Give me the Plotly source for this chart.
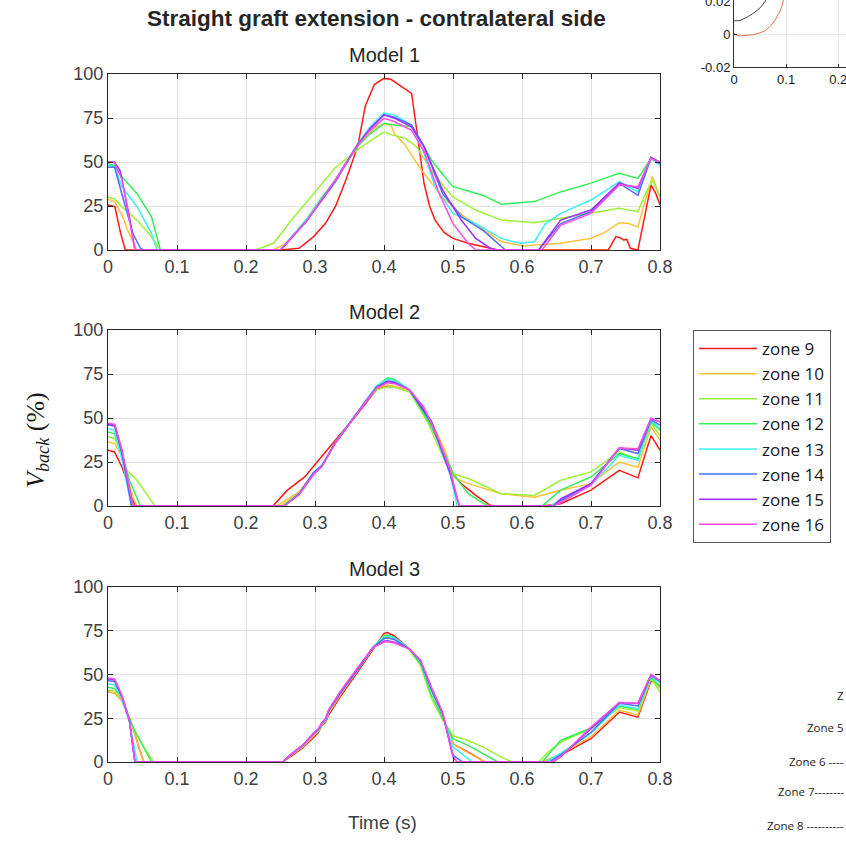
import plotly.graph_objects as go

# ---------------------------------------------------------------- data
ZONES = ["zone 9", "zone 10", "zone 11", "zone 12",
         "zone 13", "zone 14", "zone 15", "zone 16"]
ZONE_COLORS = ["#ff1a1a", "#ffc13b", "#9cf23a", "#36ef5a",
               "#3ff2f2", "#4d6fff", "#9b30ff", "#ff4de6"]

TIME_TICKS = [0, 0.1, 0.2, 0.3, 0.4, 0.5, 0.6, 0.7, 0.8]
TIME_LABELS = ["0", "0.1", "0.2", "0.3", "0.4", "0.5", "0.6", "0.7", "0.8"]
VBACK_TICKS = [0, 25, 50, 75, 100]
VBACK_LABELS = ["0", "25", "50", "75", "100"]

MODEL_TITLES = ["Model 1", "Model 2", "Model 3"]

# backflow (%) per zone: (time [s], value [%])
MODEL1 = {
    "zone 9": ([0, 0.01, 0.018, 0.025, 0.1, 0.2, 0.25, 0.277, 0.298, 0.315, 0.33, 0.345, 0.362, 0.373, 0.386, 0.4, 0.41, 0.425, 0.44, 0.445, 0.452, 0.458, 0.466, 0.474, 0.487, 0.5, 0.522, 0.54, 0.554, 0.565, 0.65, 0.725, 0.731, 0.736, 0.742, 0.747, 0.752, 0.757, 0.768, 0.778, 0.787, 0.794, 0.8],
               [25.6, 24.6, 10, 0, 0, 0, 0, 1, 7.6, 15, 25, 40, 59, 82, 94, 97.5, 97, 93, 89, 75, 55, 38, 25, 17, 10, 6.6, 3.8, 2, 1, 0, 0, 0, 4, 7.6, 7, 5.7, 6, 1, 0, 20, 37, 32, 25.6]),
    "zone 10": ([0, 0.0096, 0.02, 0.03, 0.042, 0.1, 0.2, 0.239, 0.255, 0.27, 0.287, 0.31, 0.33, 0.345, 0.362, 0.375, 0.389, 0.4, 0.41, 0.415, 0.43, 0.442, 0.455, 0.469, 0.485, 0.5, 0.516, 0.533, 0.55, 0.57, 0.602, 0.656, 0.7, 0.72, 0.741, 0.755, 0.768, 0.78, 0.789, 0.8],
                [28.8, 27.5, 20, 10, 0, 0, 0, 0, 3, 9, 17, 28, 40, 50, 59, 65, 70, 71.5, 71, 66, 60, 53, 45, 38, 30, 24.6, 19, 15, 10, 4.7, 2.3, 3.8, 6.6, 10, 15.5, 15, 13, 30, 41.7, 30]),
    "zone 11": ([0, 0.0096, 0.02, 0.042, 0.06, 0.076, 0.1, 0.2, 0.213, 0.24, 0.266, 0.298, 0.33, 0.362, 0.38, 0.4, 0.415, 0.431, 0.447, 0.458, 0.469, 0.485, 0.5, 0.533, 0.57, 0.618, 0.656, 0.7, 0.741, 0.768, 0.779, 0.789, 0.8],
                [30, 29, 24.6, 17, 9, 0, 0, 0, 0, 3.8, 17, 32, 47, 57, 62, 67, 65, 63.4, 58.7, 52, 45, 37, 30, 22.7, 17, 15.5, 18, 20.8, 23.7, 21.8, 32, 39.8, 30]),
    "zone 12": ([0, 0.0096, 0.02, 0.042, 0.063, 0.076, 0.1, 0.2, 0.25, 0.287, 0.31, 0.33, 0.362, 0.38, 0.4, 0.415, 0.44, 0.455, 0.469, 0.485, 0.5, 0.522, 0.544, 0.57, 0.618, 0.656, 0.7, 0.741, 0.768, 0.787, 0.8],
                [49, 48, 41.7, 32, 19, 0, 0, 0, 0, 17, 30, 40, 59, 66, 72, 71, 70, 61, 51, 43, 36, 33.5, 31, 26, 27.5, 33, 38, 43.6, 40.7, 52, 49]),
    "zone 13": ([0, 0.0096, 0.02, 0.042, 0.063, 0.071, 0.1, 0.2, 0.25, 0.287, 0.33, 0.362, 0.38, 0.4, 0.415, 0.44, 0.458, 0.474, 0.5, 0.533, 0.57, 0.597, 0.618, 0.634, 0.656, 0.7, 0.741, 0.768, 0.787, 0.8],
                [48, 47.5, 36, 24.6, 9.5, 0, 0, 0, 0, 17, 40, 60.6, 70, 78, 76.7, 71, 55, 36, 20.8, 15, 6.6, 3.8, 4.7, 15, 20.8, 28.4, 38.8, 33, 52, 48]),
    "zone 14": ([0, 0.0096, 0.02, 0.036, 0.047, 0.052, 0.1, 0.2, 0.25, 0.287, 0.33, 0.362, 0.38, 0.4, 0.415, 0.44, 0.458, 0.485, 0.512, 0.544, 0.565, 0.576, 0.624, 0.656, 0.7, 0.741, 0.768, 0.787, 0.8],
                [47, 47, 32, 9.5, 1, 0, 0, 0, 0, 16, 39, 60, 69, 77, 75.5, 71, 58.7, 32, 19, 11, 3.8, 0, 0, 15, 21.8, 38, 31, 52.6, 49]),
    "zone 15": ([0, 0.0096, 0.0176, 0.031, 0.039, 0.1, 0.2, 0.25, 0.287, 0.33, 0.362, 0.38, 0.4, 0.415, 0.44, 0.458, 0.485, 0.512, 0.533, 0.554, 0.565, 0.624, 0.656, 0.7, 0.741, 0.768, 0.787, 0.8],
                [50, 50, 45, 19, 0, 0, 0, 0, 16, 40, 60, 69, 76.7, 75, 70, 58.7, 34, 17, 6.6, 1, 0, 0, 17, 22.7, 38, 35, 52.6, 50]),
    "zone 16": ([0, 0.0096, 0.0203, 0.0336, 0.039, 0.1, 0.2, 0.25, 0.287, 0.33, 0.362, 0.38, 0.4, 0.415, 0.44, 0.458, 0.48, 0.5, 0.522, 0.533, 0.629, 0.656, 0.7, 0.741, 0.768, 0.787, 0.8],
                [50, 49.6, 40, 13, 0, 0, 0, 0, 16, 40, 59.5, 68, 74.8, 73, 68, 56, 32, 15, 3.8, 0, 0, 14, 20.8, 37, 36, 52, 50]),
}

MODEL2 = {
    "zone 9": ([0, 0.0096, 0.0203, 0.031, 0.039, 0.1, 0.2, 0.239, 0.26, 0.285, 0.303, 0.33, 0.362, 0.389, 0.402, 0.415, 0.437, 0.453, 0.469, 0.485, 0.5, 0.512, 0.533, 0.554, 0.565, 0.629, 0.656, 0.7, 0.741, 0.768, 0.787, 0.8],
               [31.7, 30.7, 22, 10.8, 0, 0, 0, 0, 9, 16.5, 25, 37.4, 52.6, 66, 68, 67.7, 65, 58, 45, 31.7, 18.4, 12.7, 6, 0.4, 0, 0, 1.3, 9, 20.3, 16, 40, 31.7]),
    "zone 10": ([0, 0.0096, 0.0203, 0.036, 0.042, 0.1, 0.2, 0.244, 0.277, 0.298, 0.31, 0.33, 0.362, 0.389, 0.405, 0.415, 0.437, 0.469, 0.49, 0.5, 0.522, 0.57, 0.618, 0.656, 0.7, 0.741, 0.768, 0.787, 0.8],
                [36.4, 35.5, 28, 5, 0, 0, 0, 0, 8, 19, 23, 36.4, 53.5, 67, 68.7, 68, 65.5, 48, 30, 16.5, 12.7, 7, 5, 9, 12.7, 25, 22, 45, 37.4]),
    "zone 11": ([0, 0.0096, 0.0203, 0.0256, 0.042, 0.068, 0.1, 0.2, 0.25, 0.277, 0.298, 0.31, 0.33, 0.362, 0.389, 0.405, 0.415, 0.437, 0.464, 0.49, 0.5, 0.522, 0.57, 0.618, 0.656, 0.7, 0.741, 0.768, 0.787, 0.8],
                [39.3, 38.5, 29.8, 21, 14.6, 0, 0, 0, 0, 7, 19, 23, 36.4, 53.5, 66, 67.7, 67.5, 65, 47, 24, 18.4, 15.6, 7, 6, 14.6, 19.4, 30.7, 26, 47, 40]),
    "zone 12": ([0, 0.0096, 0.0203, 0.031, 0.047, 0.1, 0.2, 0.255, 0.277, 0.298, 0.31, 0.33, 0.362, 0.389, 0.405, 0.415, 0.437, 0.469, 0.49, 0.5, 0.522, 0.544, 0.554, 0.629, 0.656, 0.7, 0.741, 0.768, 0.787, 0.8],
                [42, 41, 29.8, 14.6, 0, 0, 0, 0, 7, 19, 23, 36.4, 53.5, 68, 72.9, 72, 66, 45, 28, 18.4, 7, 1.5, 0, 0, 9, 16.5, 29.8, 27, 47.8, 43]),
    "zone 13": ([0, 0.0096, 0.0203, 0.034, 0.1, 0.2, 0.255, 0.277, 0.298, 0.31, 0.33, 0.362, 0.389, 0.405, 0.415, 0.437, 0.469, 0.496, 0.506, 0.64, 0.656, 0.7, 0.741, 0.768, 0.787, 0.8],
                [44, 43, 26, 0, 0, 0, 0, 7, 19, 23, 36.4, 53.5, 68, 72, 71.5, 66, 47, 18, 0, 0, 3, 11.8, 28.8, 26, 48.8, 44]),
    "zone 14": ([0, 0.0096, 0.0203, 0.034, 0.1, 0.2, 0.255, 0.277, 0.298, 0.31, 0.33, 0.362, 0.389, 0.405, 0.415, 0.437, 0.469, 0.496, 0.509, 0.645, 0.656, 0.7, 0.741, 0.768, 0.787, 0.8],
                [46, 45.5, 29.8, 0, 0, 0, 0, 7, 19, 23, 36.4, 53.5, 67.5, 71, 70.5, 66, 47, 18, 0, 0, 3, 12.7, 32.6, 29.8, 49, 46]),
    "zone 15": ([0, 0.0096, 0.0203, 0.036, 0.1, 0.2, 0.255, 0.277, 0.298, 0.31, 0.33, 0.362, 0.389, 0.405, 0.415, 0.437, 0.469, 0.496, 0.509, 0.645, 0.656, 0.7, 0.741, 0.768, 0.787, 0.8],
                [46.5, 46, 31, 0, 0, 0, 0, 6.5, 18, 22.5, 36, 53, 67, 70.6, 70, 66, 48, 19, 0, 0, 4, 12.7, 33, 31.7, 49.7, 47.8]),
    "zone 16": ([0, 0.0096, 0.0203, 0.036, 0.1, 0.2, 0.255, 0.277, 0.298, 0.31, 0.33, 0.362, 0.389, 0.405, 0.415, 0.437, 0.458, 0.48, 0.496, 0.509, 0.645, 0.656, 0.7, 0.741, 0.768, 0.787, 0.8],
                [47, 46.5, 32, 0, 0, 0, 0, 6.5, 18, 22.5, 36, 53, 67, 70, 69.5, 66, 56, 37.4, 20.3, 0, 0, 2, 11.8, 33, 32.5, 49.7, 47.8]),
}

MODEL3 = {
    "zone 9": ([0, 0.0096, 0.0203, 0.031, 0.036, 0.045, 0.052, 0.1, 0.2, 0.253, 0.266, 0.282, 0.298, 0.305, 0.31, 0.315, 0.32, 0.336, 0.362, 0.384, 0.4, 0.405, 0.415, 0.437, 0.453, 0.469, 0.485, 0.5, 0.522, 0.544, 0.55, 0.63, 0.656, 0.7, 0.741, 0.768, 0.787, 0.8],
               [40, 39.5, 35, 24, 20, 8, 0, 0, 0, 0, 3.5, 8, 14, 17, 21, 22.5, 27, 37, 51.5, 64.5, 73.5, 74, 72, 64.5, 57, 41, 26, 10.4, 5.7, 0.5, 0, 0, 4, 13.3, 28.5, 25.6, 46.5, 43.6]),
    "zone 10": ([0, 0.0096, 0.0203, 0.031, 0.036, 0.045, 0.052, 0.1, 0.2, 0.253, 0.266, 0.282, 0.298, 0.305, 0.31, 0.315, 0.32, 0.336, 0.362, 0.384, 0.4, 0.405, 0.415, 0.437, 0.453, 0.469, 0.485, 0.5, 0.522, 0.544, 0.55, 0.63, 0.656, 0.7, 0.741, 0.768, 0.787, 0.8],
                [40, 39.5, 35, 24, 20, 8, 0, 0, 0, 0, 4, 8.5, 15, 17.5, 21.5, 23, 28, 38, 52.5, 65, 72.5, 72.5, 71, 64.5, 57, 41, 26.5, 10.4, 5.2, 0.5, 0, 0, 4.5, 14.5, 29.5, 27, 47.5, 42]),
    "zone 11": ([0, 0.0096, 0.0203, 0.031, 0.036, 0.052, 0.066, 0.1, 0.2, 0.253, 0.266, 0.282, 0.298, 0.305, 0.31, 0.315, 0.32, 0.336, 0.362, 0.384, 0.4, 0.405, 0.415, 0.437, 0.453, 0.469, 0.485, 0.5, 0.522, 0.544, 0.57, 0.586, 0.624, 0.64, 0.661, 0.7, 0.741, 0.768, 0.787, 0.8],
                [41, 40.5, 36, 25, 20, 8.5, 0, 0, 0, 0, 4.5, 9, 16, 18, 22, 23.5, 29, 39, 53, 65.5, 71, 71.5, 70, 64, 55, 36, 24, 15, 12.3, 8.5, 2.8, 0, 0, 6.6, 12.3, 19, 31, 29, 48, 40]),
    "zone 12": ([0, 0.0096, 0.0203, 0.031, 0.036, 0.052, 0.063, 0.1, 0.2, 0.253, 0.266, 0.282, 0.298, 0.305, 0.31, 0.315, 0.32, 0.336, 0.362, 0.384, 0.4, 0.405, 0.415, 0.437, 0.453, 0.469, 0.485, 0.5, 0.522, 0.544, 0.565, 0.629, 0.656, 0.7, 0.741, 0.768, 0.787, 0.8],
                [42.7, 42, 37, 25, 20, 8, 0, 0, 0, 0, 4.5, 9, 16, 18, 22, 23.5, 29, 39, 53, 65.5, 72, 72.5, 71, 64.5, 56, 38, 25, 13.3, 9.5, 4.7, 0, 0, 12.3, 19.5, 32, 30, 48.5, 43]),
    "zone 13": ([0, 0.0096, 0.0203, 0.031, 0.042, 0.1, 0.2, 0.253, 0.266, 0.282, 0.298, 0.305, 0.31, 0.315, 0.32, 0.336, 0.362, 0.384, 0.4, 0.405, 0.415, 0.437, 0.453, 0.469, 0.485, 0.5, 0.522, 0.528, 0.634, 0.656, 0.7, 0.741, 0.768, 0.787, 0.8],
                [44.6, 44, 36, 23, 0, 0, 0, 0, 4.5, 9, 16, 18, 22, 23.5, 29, 39, 53, 65.5, 71.5, 72, 71, 64.5, 57, 40.5, 27, 8.5, 1.9, 0, 0, 5, 16.5, 32.5, 30.5, 49, 45]),
    "zone 14": ([0, 0.0096, 0.0203, 0.031, 0.039, 0.1, 0.2, 0.253, 0.266, 0.282, 0.298, 0.305, 0.31, 0.315, 0.32, 0.336, 0.362, 0.384, 0.4, 0.405, 0.415, 0.437, 0.453, 0.469, 0.485, 0.5, 0.512, 0.517, 0.64, 0.656, 0.7, 0.741, 0.768, 0.787, 0.8],
                [46.5, 46, 37, 23.7, 0, 0, 0, 0, 4.5, 9.5, 16, 18.5, 22, 24, 29.4, 39, 53, 65.5, 70.5, 70.8, 70, 64.5, 57.5, 41, 27.5, 4, 0.5, 0, 0, 4, 17, 33.5, 32, 49.5, 46]),
    "zone 15": ([0, 0.0096, 0.0203, 0.031, 0.039, 0.1, 0.2, 0.253, 0.266, 0.282, 0.298, 0.305, 0.31, 0.315, 0.32, 0.336, 0.362, 0.384, 0.4, 0.405, 0.415, 0.437, 0.453, 0.469, 0.485, 0.5, 0.506, 0.645, 0.656, 0.7, 0.741, 0.768, 0.787, 0.8],
                [47.4, 47, 37.5, 23.7, 0, 0, 0, 0, 4.7, 9.5, 16.5, 19, 22.5, 24.5, 29.8, 39.5, 53.5, 65.5, 69, 69.3, 68.5, 64.5, 58, 42, 28, 3, 0, 0, 3, 19, 34, 33.5, 50, 46.5]),
    "zone 16": ([0, 0.0096, 0.0203, 0.031, 0.039, 0.1, 0.2, 0.253, 0.266, 0.282, 0.298, 0.305, 0.31, 0.315, 0.32, 0.336, 0.362, 0.384, 0.4, 0.405, 0.415, 0.437, 0.453, 0.469, 0.485, 0.5, 0.506, 0.645, 0.656, 0.7, 0.741, 0.768, 0.787, 0.8],
                [48, 47.5, 38, 24, 0, 0, 0, 0, 4.7, 9.5, 16.5, 19, 22.5, 24.5, 30, 40, 54, 65.5, 68.5, 68.7, 68, 64.5, 58, 42.5, 28.5, 3, 0, 0, 3, 20, 34, 33.6, 50, 46.5]),
}

MODELS = [MODEL1, MODEL2, MODEL3]

# small neighbouring panel (top right)
SIDE_T_DARK = [0, 0.012, 0.025, 0.037, 0.05, 0.063, 0.075]
SIDE_V_DARK = [0.0079, 0.0082, 0.0102, 0.0125, 0.0158, 0.0206, 0.026]
SIDE_T_ORANGE = [0, 0.005, 0.012, 0.025, 0.037, 0.05, 0.06, 0.07, 0.079, 0.086, 0.092, 0.095, 0.1]
SIDE_V_ORANGE = [0.0004, -0.0008, -0.0012, -0.0009, -0.0004, 0.0007, 0.002, 0.0048, 0.0085, 0.0125, 0.0166, 0.0206, 0.027]
SIDE_X_TICKS = [0, 0.1, 0.2]
SIDE_Y_TICKS = [-0.02, 0, 0.02]

# ---------------------------------------------------------------- layout helpers
W, H = 846, 843


def px(x):
    return x / W


def py(y):
    return 1 - y / H


PLOT_X = (108, 660)
PLOT_Y = [(74, 250), (330, 506), (587, 762)]

AX_COLOR = "#262626"
TICK_COLOR = "#404040"
GRID_COLOR = "#e2e2e2"
FONT = "Liberation Sans, Arial, sans-serif"

fig = go.Figure()

for i, model in enumerate(MODELS):
    ax = "" if i == 0 else str(i + 1)
    for zone, color in zip(ZONES, ZONE_COLORS):
        t, v = model[zone]
        fig.add_trace(go.Scatter(
            x=t, y=v, mode="lines", name=zone, legendgroup=zone,
            showlegend=(i == 0),
            line=dict(color=color, width=1.5),
            xaxis="x" + ax, yaxis="y" + ax,
        ))

fig.add_trace(go.Scatter(x=SIDE_T_DARK, y=SIDE_V_DARK, mode="lines",
                         line=dict(color="#4a4a4a", width=1),
                         showlegend=False, xaxis="x4", yaxis="y4"))
fig.add_trace(go.Scatter(x=SIDE_T_ORANGE, y=SIDE_V_ORANGE, mode="lines",
                         line=dict(color="#e8764f", width=1),
                         showlegend=False, xaxis="x4", yaxis="y4"))

common_axis = dict(
    automargin=False,
    showline=True, linecolor=AX_COLOR, linewidth=1, mirror="ticks",
    ticks="inside", ticklen=5, tickcolor=AX_COLOR, tickwidth=1,
    showgrid=True, gridcolor=GRID_COLOR, gridwidth=1, zeroline=False,
    tickfont=dict(family=FONT, size=18, color=TICK_COLOR),
)

layout = dict(
    width=W, height=H,
    margin=dict(l=0, r=0, t=0, b=0, autoexpand=False),
    paper_bgcolor="white", plot_bgcolor="white",
    font=dict(family=FONT, color=TICK_COLOR),
    showlegend=True,
    legend=dict(
        x=px(693), y=py(330), xanchor="left", yanchor="top",
        bordercolor="#5a5a5a", borderwidth=1, bgcolor="white",
        font=dict(family="Open Sans, Liberation Sans, sans-serif", size=17, color="#1a1a1a"),
        itemwidth=58, tracegroupgap=0,
    ),
)

for i, (y_top, y_bot) in enumerate(PLOT_Y):
    ax = "" if i == 0 else str(i + 1)
    layout["xaxis" + ax] = dict(
        common_axis, domain=[px(PLOT_X[0]), px(PLOT_X[1])], anchor="y" + ax,
        range=[0, 0.8], tickvals=TIME_TICKS, ticktext=TIME_LABELS,
    )
    layout["yaxis" + ax] = dict(
        common_axis, domain=[py(y_bot), py(y_top)], anchor="x" + ax,
        range=[0, 100], tickvals=VBACK_TICKS, ticktext=VBACK_LABELS,
    )

side_axis = dict(
    automargin=False, ticklabeloverflow="allow",
    showline=True, linecolor="#333333", linewidth=1, mirror=False,
    ticks="inside", ticklen=3, tickcolor="#333333",
    showgrid=True, gridcolor="#ececec", zeroline=False,
    tickfont=dict(family=FONT, size=13, color="#1a1a1a"),
)
layout["xaxis4"] = dict(side_axis, domain=[px(734), 1], anchor="y4",
                        range=[0, 0.215], tickvals=SIDE_X_TICKS,
                        ticktext=["0", "0.1", "0.2"])
layout["yaxis4"] = dict(side_axis, domain=[py(67), 1], anchor="x4",
                        range=[-0.02, 0.0206], tickvals=SIDE_Y_TICKS,
                        ticktext=["-0.02", "0", "0.02"])

fig.update_layout(**layout)

annotations = [
    dict(text="<b>Straight graft extension - contralateral side</b>",
         x=px(376), y=py(18), xanchor="center", yanchor="middle",
         font=dict(family="Liberation Sans Narrow, Liberation Sans, Arial, sans-serif",
                   size=22.5, color="#262626")),
    dict(text="Time (s)", x=px(382), y=py(822), xanchor="center", yanchor="middle",
         font=dict(family=FONT, size=19, color=TICK_COLOR)),
    dict(text="<i>V</i><sub><i>back</i></sub> (%)", x=px(37), y=py(440),
         xanchor="center", yanchor="middle", textangle=-90,
         font=dict(family="Liberation Serif, DejaVu Serif, serif", size=26, color="#1a1a1a")),
]
title_y = [55, 312, 569]
for title, ty in zip(MODEL_TITLES, title_y):
    annotations.append(dict(
        text=title, x=px((PLOT_X[0] + PLOT_X[1]) / 2), y=py(ty),
        xanchor="center", yanchor="middle",
        font=dict(family=FONT, size=20, color="#262626")))

# labels of a neighbouring diagram, ending at the right edge
side_labels = [("Z", 695), ("Zone 5", 727), ("Zone 6 ----", 761),
               ("Zone 7--------", 791), ("Zone 8 ----------", 825)]
for text, ly in side_labels:
    annotations.append(dict(
        text=text, x=1, y=py(ly), xanchor="right", yanchor="middle",
        font=dict(family="Open Sans, Liberation Sans, sans-serif", size=11.5, color="#222222")))

for a in annotations:
    a.update(xref="paper", yref="paper", showarrow=False)
fig.update_layout(annotations=annotations)

fig.write_html("out.html", config={"displayModeBar": False})
